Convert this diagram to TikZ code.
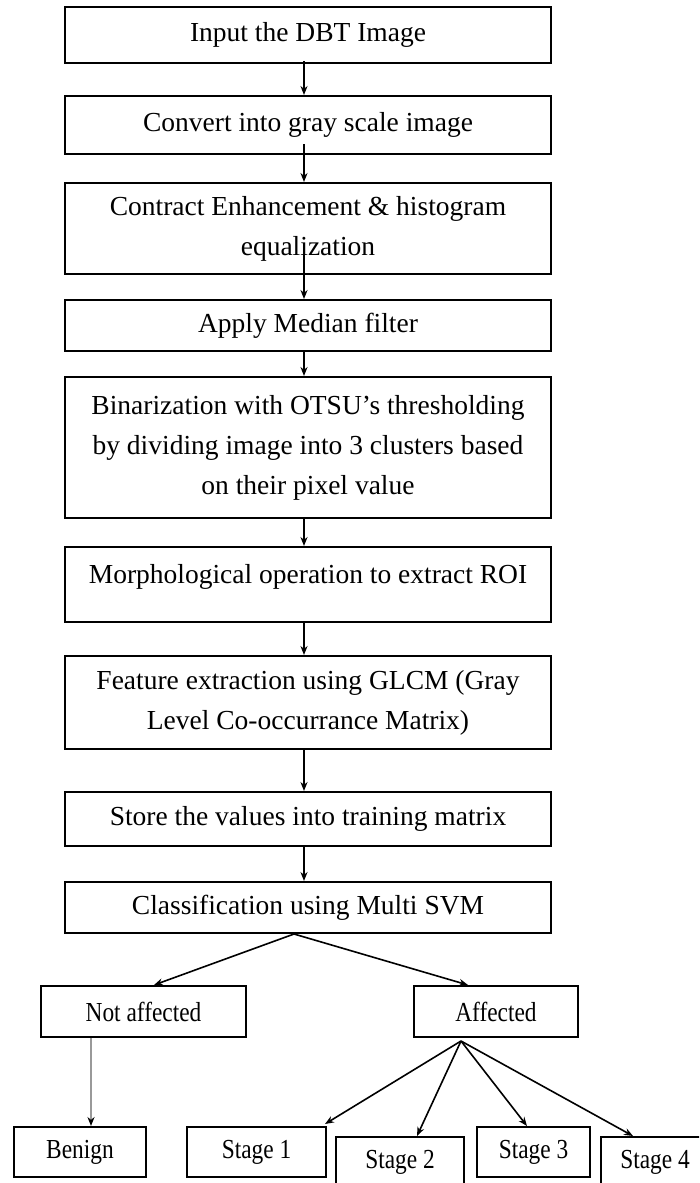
\documentclass[tikz,border=0pt]{standalone}
\usepackage{fontspec}
\setmainfont{Liberation Serif}
\newfontfamily\condfont[FakeStretch=0.85]{Liberation Serif}
\usetikzlibrary{arrows.meta}
\tikzset{
  box/.style={draw, line width=2pt, minimum width=486pt, align=center, inner sep=0pt,
    font=\fontsize{27.5}{40}\selectfont},
  sbox/.style={draw, line width=2pt, inner sep=0pt, minimum height=50pt,
    font=\condfont\fontsize{27.5}{33}\selectfont},
  arr/.style={line width=1.6pt, -{Stealth[length=9pt,width=7pt]}},
  grayarr/.style={line width=1.6pt, draw=black!40, -{Stealth[length=9pt,width=7pt,color=black]}},
}
\begin{document}
\begin{tikzpicture}[x=1pt,y=-1pt]
\useasboundingbox (0,0) rectangle (699,1183);
\clip (0,0) rectangle (699,1183);
\fill[white] (0,0) rectangle (699,1183);

\node[box, minimum height=56pt] (b1) at (308,35) {Input the DBT Image};
\node[box, minimum height=58pt] (b2) at (308,125) {Convert into gray scale image};
\node[box, minimum height=91pt] (b3) at (308,228.5) {Contract Enhancement \& histogram\\equalization};
\node[box, minimum height=51pt] (b4) at (308,325.5) {Apply Median filter};
\node[box, minimum height=141pt] (b5) at (308,447.5) {Binarization with OTSU’s thresholding\\by dividing image into 3 clusters based\\on their pixel value};
\node[box, minimum height=75pt, text height=19pt, text depth=21pt] (b6) at (308,584.5) {Morphological operation to extract ROI};
\node[box, minimum height=93pt] (b7) at (308,702.5) {Feature extraction using GLCM (Gray\\Level Co-occurrance Matrix)};
\node[box, minimum height=54pt] (b8) at (308,819) {Store the values into training matrix};
\node[box, minimum height=51pt] (b9) at (308,907.5) {Classification using Multi SVM};

\node[sbox, minimum width=205pt, minimum height=51pt] (na) at (143.5,1011.5) {Not affected};
\node[sbox, minimum width=164pt, minimum height=51pt] (af) at (496,1011.5) {Affected};
\node[sbox, minimum width=132pt] (be) at (80,1152) {Benign};
\node[sbox, minimum width=139pt] (s1) at (256.5,1152) {Stage 1};
\node[sbox, minimum width=128pt] (s2) at (400,1162) {Stage 2};
\node[sbox, minimum width=113pt] (s3) at (533.5,1152) {Stage 3};
\node[sbox, minimum width=108pt] (s4) at (655,1162) {Stage 4};

\draw[arr] ([xshift=-4pt,yshift=3pt]b1.south) -- ([xshift=-4pt]b2.north);
\draw[arr] ([xshift=-4pt,yshift=11pt]b2.south) -- ([xshift=-4pt]b3.north);
\draw[arr] ([xshift=-4pt,yshift=21pt]b3.south) -- ([xshift=-4pt]b4.north);
\draw[arr] ([xshift=-4pt]b4.south) -- ([xshift=-4pt]b5.north);
\draw[arr] ([xshift=-4pt]b5.south) -- ([xshift=-4pt]b6.north);
\draw[arr] ([xshift=-4pt]b6.south) -- ([xshift=-4pt]b7.north);
\draw[arr] ([xshift=-4pt]b7.south) -- ([xshift=-4pt]b8.north);
\draw[arr] ([xshift=-4pt]b8.south) -- ([xshift=-4pt]b9.north);

\draw[arr] ([xshift=-14pt]b9.south) -- ([xshift=10.5pt]na.north);
\draw[arr] ([xshift=-14pt]b9.south) -- ([xshift=-28pt]af.north);
\draw[grayarr] ([xshift=-52.5pt]na.south) -- ([xshift=11pt]be.north);

\draw[arr] ([xshift=-35pt,yshift=-3pt]af.south) -- ([xshift=-2pt,yshift=2pt]s1.north east);
\draw[arr] ([xshift=-35pt,yshift=-3pt]af.south) -- ([xshift=17pt]s2.north);
\draw[arr] ([xshift=-35pt,yshift=-3pt]af.south) -- ([xshift=-6.5pt]s3.north);
\draw[arr] ([xshift=-35pt,yshift=-3pt]af.south) -- ([xshift=-22pt]s4.north);
\end{tikzpicture}
\end{document}
